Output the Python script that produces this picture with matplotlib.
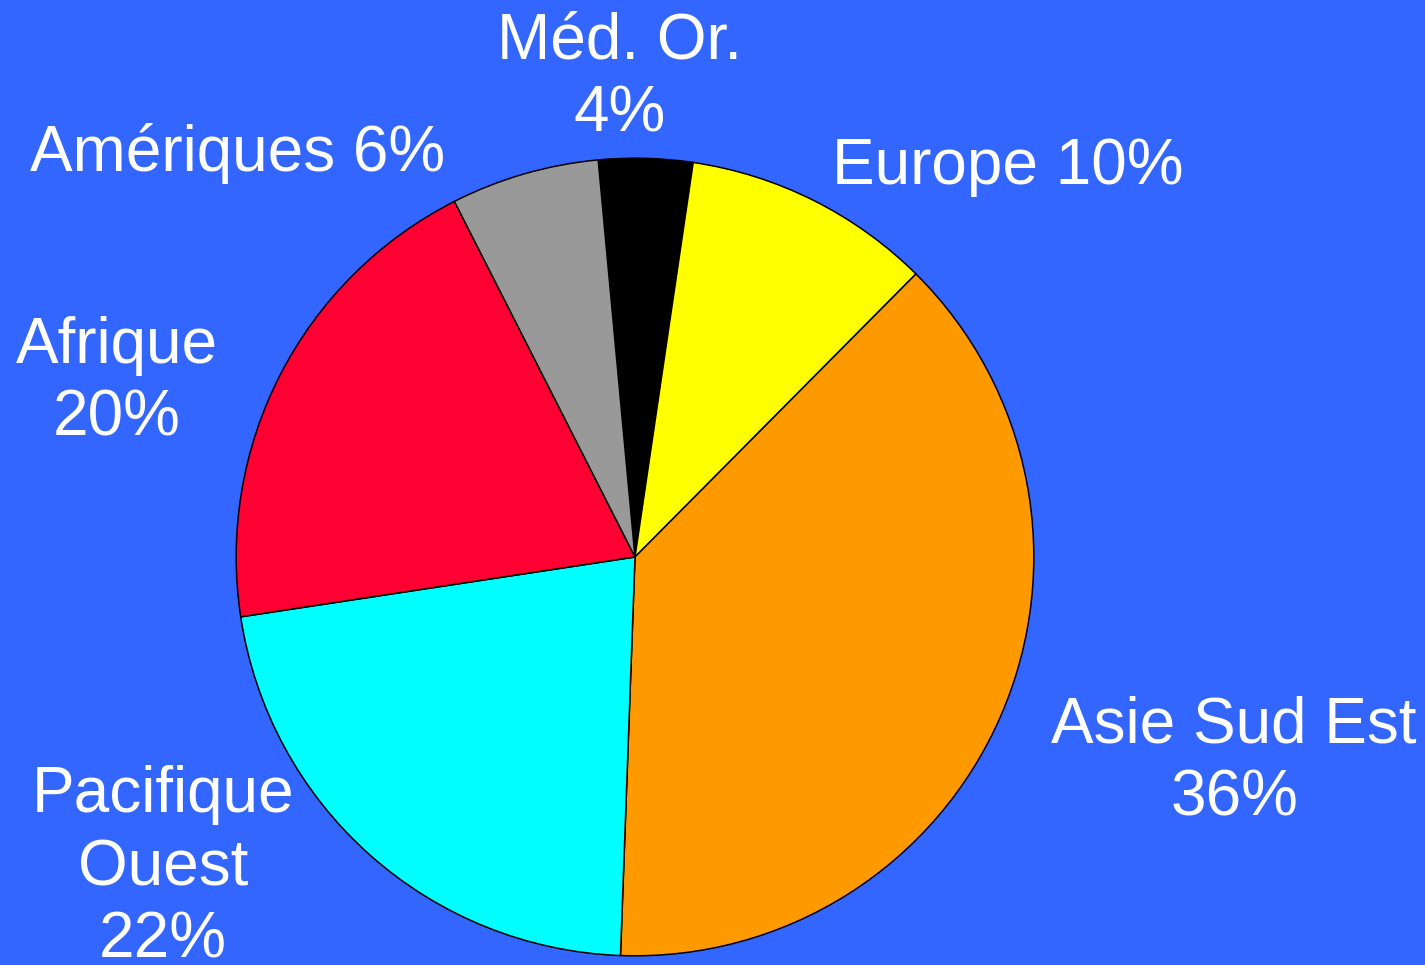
import matplotlib
matplotlib.use("Agg")
import matplotlib.pyplot as plt

# slices clockwise from the top (black slice first)
regions = ["Méd. Or.", "Europe", "Asie Sud Est", "Pacifique Ouest", "Afrique", "Amériques"]
shares = [3.8, 10.1, 38.1, 22.0, 19.9, 6.0]          # angular share
labels = ["Méd. Or.\n4%", "Europe 10%", "Asie Sud Est\n36%",
          "Pacifique\nOuest\n22%", "Afrique\n20%", "Amériques 6%"]
colors = ["#000000", "#FFFF00", "#FF9900", "#00FFFF", "#FF0033", "#999999"]
# label centres in pixels (x, y from top)
label_pos = [(620, 78), (1008, 167), (1234, 762), (163, 868), (117, 382), (238, 153)]

BG = "#3366FF"
W, H = 1425, 965

fig = plt.figure(figsize=(W / 100, H / 100), dpi=100, facecolor=BG)
cx, cy, r = 635, 557, 400
ax = fig.add_axes([(cx - r) / W, (H - cy - r) / H, 2 * r / W, 2 * r / H])
ax.set_facecolor(BG)
ax.pie(shares, colors=colors, startangle=95.3, counterclock=False, radius=1,
       wedgeprops=dict(edgecolor="black", linewidth=1.1))
ax.set_xlim(-1.003, 1.003)
ax.set_ylim(-1.003, 1.003)
ax.set_aspect("equal")
ax.axis("off")

for lab, (x, y) in zip(labels, label_pos):
    fig.text(x / W, 1 - y / H, lab, ha="center", va="center", multialignment="center",
             color="white", fontsize=46, family="Liberation Sans", linespacing=1.27)

fig.savefig("out.png", dpi=100, facecolor=BG)
